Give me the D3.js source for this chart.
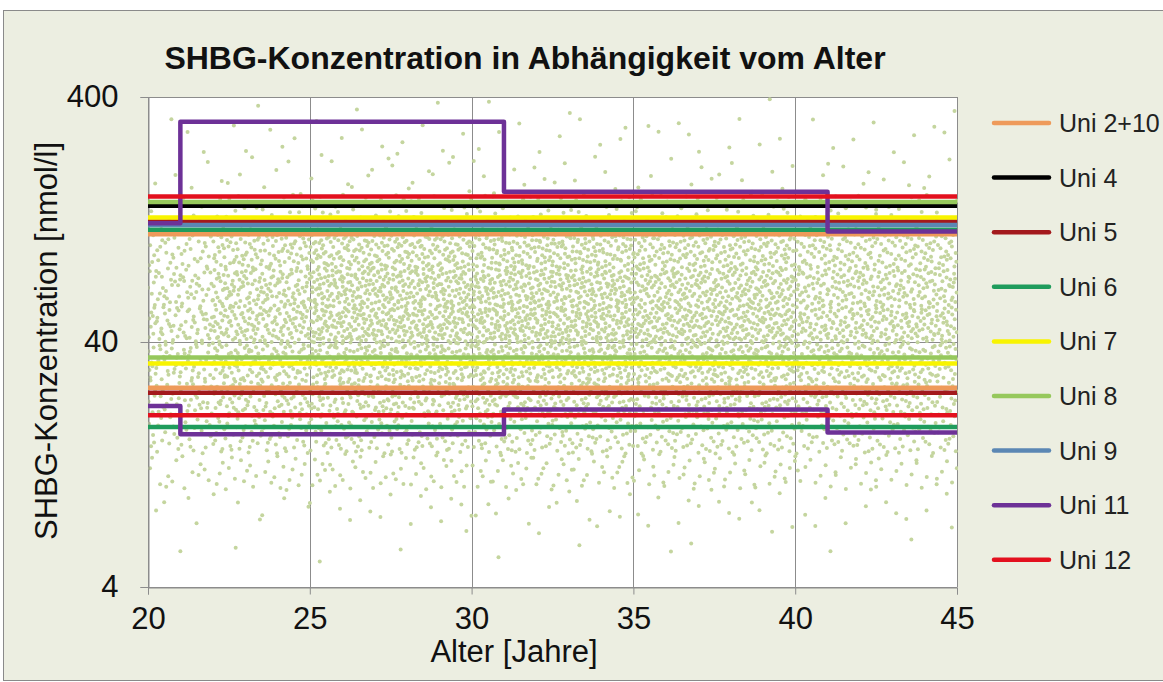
<!DOCTYPE html>
<html>
<head>
<meta charset="utf-8">
<script src="https://cdn.jsdelivr.net/npm/d3@7"></script>
<style>
  html, body { margin: 0; padding: 0; background: #ffffff; }
  svg { display: block; font-family: "Liberation Sans", Arial, sans-serif; }
</style>
</head>
<body>
<svg id="chart" width="1163" height="682"></svg>
<script>
// ---- Data -------------------------------------------------------------
const chartTitle = "SHBG-Konzentration in Abhängigkeit vom Alter";
const xTitle = "Alter [Jahre]";
const yTitle = "SHBG-Konzentration [nmol/l]";
const xTicks = [20, 25, 30, 35, 40, 45];
const yTicks = [4, 40, 400];

// Reference ranges per laboratory: [age, nmol/l] breakpoints
const uni2_10 = { name: "Uni 2+10", color: "#ee9a5a", lines: [[[20, 110], [45, 110]], [[20, 26], [45, 26]]] };
const uni4    = { name: "Uni 4",    color: "#000000", lines: [[[20, 144], [45, 144]]] };
const uni5    = { name: "Uni 5",    color: "#a3191c", lines: [[[20, 124], [45, 124]], [[20, 24.8], [45, 24.8]]] };
const uni6    = { name: "Uni 6",    color: "#1f9c5c", lines: [[[20, 115], [45, 115]], [[20, 18], [45, 18]]] };
const uni7    = { name: "Uni 7",    color: "#f8f400", lines: [[[20, 129], [45, 129]], [[20, 32.7], [45, 32.7]]] };
const uni8    = { name: "Uni 8",    color: "#96c85c", lines: [[[20, 149], [45, 149]], [[20, 34.6], [45, 34.6]]] };
const uni9    = { name: "Uni 9",    color: "#5b87b4", lines: [[[20, 120], [45, 120]]] };
const uni11   = { name: "Uni 11",   color: "#6d3197", lines: [
  [[20, 122], [21, 122], [21, 317], [31, 317], [31, 164], [41, 164], [41, 113], [45, 113]],
  [[20, 21.9], [21, 21.9], [21, 16.8], [31, 16.8], [31, 21.2], [41, 21.2], [41, 17.1], [45, 17.1]]
] };
const uni12   = { name: "Uni 12",   color: "#e3101e", lines: [[[20, 157], [45, 157]], [[20, 20.1], [45, 20.1]]] };
const series = [uni2_10, uni4, uni5, uni6, uni7, uni8, uni9, uni11, uni12];

// Measured samples, counted per age bin and concentration band
const ageEdges  = [20, 22, 25, 30, 35, 40, 45];
const bandEdges = [5, 7, 10, 14, 20, 28, 40, 56, 80, 110, 160, 230, 330, 400];
const age20to22 = [1, 4, 14, 30, 46, 55, 58, 52, 36, 12, 4, 3, 0];
const age22to25 = [1, 7, 26, 60, 92, 115, 128, 124, 92, 32, 8, 5, 1];
const age25to30 = [3, 15, 48, 108, 172, 220, 265, 268, 195, 60, 15, 10, 2];
const age30to35 = [3, 15, 50, 114, 178, 230, 275, 268, 195, 60, 15, 9, 2];
const age35to40 = [3, 14, 48, 105, 167, 215, 250, 242, 175, 55, 14, 9, 1];
const age40to45 = [2, 12, 40, 94, 144, 187, 212, 200, 148, 48, 12, 8, 1];
const sampleCounts = [age20to22, age22to25, age25to30, age30to35, age35to40, age40to45];

// ---- Layout -------------------------------------------------------------
const svg = d3.select("#chart");
const W = 1163, H = 682;
const plot = { left: 148, top: 97, right: 957, bottom: 587 };

const x = d3.scaleLinear().domain([20, 45]).range([plot.left, plot.right]);
const y = d3.scaleLog().domain([4, 400]).range([plot.bottom, plot.top]);

// chart area
svg.append("rect").attr("x", 3.5).attr("y", 10.5).attr("width", W + 10).attr("height", H - 12)
  .attr("fill", "#eceee1").attr("stroke", "#8a8a8a").attr("stroke-width", 1);

// plot area
svg.append("rect").attr("x", plot.left).attr("y", plot.top)
  .attr("width", plot.right - plot.left).attr("height", plot.bottom - plot.top)
  .attr("fill", "#ffffff");

svg.append("defs").append("clipPath").attr("id", "plotClip")
  .append("rect").attr("x", plot.left).attr("y", plot.top - 3)
  .attr("width", plot.right - plot.left + 1).attr("height", plot.bottom - plot.top + 6);

// gridlines
const grid = svg.append("g").attr("stroke", "#8c8c8c").attr("stroke-width", 1);
grid.selectAll("line.v").data(xTicks).join("line")
  .attr("x1", d => Math.round(x(d)) + 0.5).attr("x2", d => Math.round(x(d)) + 0.5)
  .attr("y1", plot.top).attr("y2", plot.bottom);
grid.selectAll("line.h").data(yTicks).join("line")
  .attr("y1", d => Math.round(y(d)) + 0.5).attr("y2", d => Math.round(y(d)) + 0.5)
  .attr("x1", plot.left).attr("x2", plot.right);

// sample dots: each bin's count is spread over the bin on a Halton sequence
function halton(i, b) {
  let f = 1, r = 0;
  while (i > 0) { f /= b; r += f * (i % b); i = Math.floor(i / b); }
  return r;
}
const samples = [];
let k = 1;
sampleCounts.forEach((row, ai) => {
  const a0 = ageEdges[ai], a1 = ageEdges[ai + 1];
  row.forEach((n, bi) => {
    const l0 = Math.log10(bandEdges[bi]), l1 = Math.log10(bandEdges[bi + 1]);
    for (let j = 0; j < n; j++, k++) {
      samples.push([a0 + (a1 - a0) * halton(k, 2), Math.pow(10, l0 + (l1 - l0) * halton(k, 3))]);
    }
  });
});
svg.append("g").attr("clip-path", "url(#plotClip)")
  .selectAll("circle").data(samples).join("circle")
  .attr("cx", d => x(d[0])).attr("cy", d => y(d[1])).attr("r", 2)
  .attr("fill", "#c4d59e");

// axes
const yAxis = svg.append("g").attr("transform", `translate(${plot.left + 0.5},0)`)
  .call(d3.axisLeft(y).tickValues(yTicks).tickFormat(d3.format("d")).tickSize(8).tickPadding(22));
const xAxis = svg.append("g").attr("transform", `translate(0,${plot.bottom + 0.5})`)
  .call(d3.axisBottom(x).tickValues(xTicks).tickSize(7).tickPadding(12));
[yAxis, xAxis].forEach(g => {
  g.select(".domain").attr("stroke", "#8c8c8c");
  g.selectAll(".tick line").attr("stroke", "#8c8c8c");
  g.selectAll(".tick text").attr("fill", "#111").style("font-size", "31px")
    .style("font-family", "'Liberation Sans', Arial, sans-serif");
});

// reference range lines
const line = d3.line().x(d => x(d[0])).y(d => y(d[1]));
const linesG = svg.append("g").attr("clip-path", "url(#plotClip)");
series.forEach(s => {
  s.lines.forEach(pts => {
    linesG.append("path").datum(pts).attr("d", line)
      .attr("fill", "none").attr("stroke", s.color).attr("stroke-width", 4.5)
      .attr("stroke-linejoin", "round");
  });
});

// titles
svg.append("text").attr("x", 525).attr("y", 69).attr("text-anchor", "middle")
  .style("font-size", "32px").style("font-weight", "bold").attr("fill", "#111").text(chartTitle);
svg.append("text").attr("x", 514).attr("y", 662).attr("text-anchor", "middle")
  .style("font-size", "31px").attr("fill", "#111").text(xTitle);
svg.append("text").attr("transform", "translate(57,341) rotate(-90)").attr("text-anchor", "middle")
  .style("font-size", "31px").attr("fill", "#111").text(yTitle);

// legend
const legend = svg.append("g");
series.forEach((s, i) => {
  const cy = 123 + i * 54.6;
  legend.append("line").attr("x1", 994).attr("x2", 1049).attr("y1", cy).attr("y2", cy)
    .attr("stroke", s.color).attr("stroke-width", 4.5).attr("stroke-linecap", "round");
  legend.append("text").attr("x", 1059).attr("y", cy).attr("dy", "0.36em")
    .style("font-size", "25px").attr("fill", "#222").text(s.name);
});
</script>
</body>
</html>
